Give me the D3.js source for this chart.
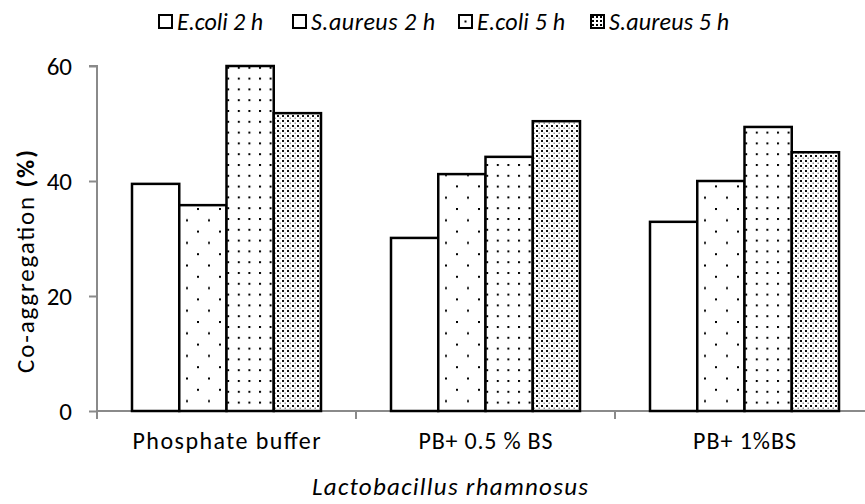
<!DOCTYPE html>
<html>
<head>
<meta charset="utf-8">
<script src="https://cdn.jsdelivr.net/npm/d3@7"></script>
<style>
  html, body { margin: 0; padding: 0; background: #fff; }
  svg { display: block; }
  text { font-family: Carlito, Lato, "Open Sans", sans-serif; fill: #000; }
</style>
</head>
<body>
<svg id="chart" width="865" height="504"></svg>
<script>
// ---- data ----
const categories = ["Phosphate buffer", "PB+ 0.5 % BS", "PB+ 1%BS"];
const seriesNames = ["E.coli 2 h", "S.aureus 2 h", "E.coli 5 h", "S.aureus 5 h"];
const ecoli2h   = [39.5, 30.1, 32.9];
const saureus2h = [35.8, 41.2, 40.0];
const ecoli5h   = [60.0, 44.2, 49.4];
const saureus5h = [51.8, 50.4, 45.0];
const yTicks = [0, 20, 40, 60];
const xTitle = "Lactobacillus rhamnosus";
const yTitle = "Co-aggregation ";
const yTitleBold = "(%)";

const seriesValues = [ecoli2h, saureus2h, ecoli5h, saureus5h];

// ---- layout ----
const svg = d3.select("#chart");
const mLeft = 97, mRight = 874, mTop = 66, mBottom = 411;

const x = d3.scaleBand().domain(categories).range([mLeft, mRight]).padding(0);
const xs = d3.scaleBand().domain(seriesNames).range([35, x.bandwidth() - 35]).padding(0);
const y = d3.scaleLinear().domain([0, 60]).range([mBottom, mTop]);

// ---- patterns ----
const defs = svg.append("defs");
function dotPattern(id, w, h, dots, ox, oy) {
  const p = defs.append("pattern").attr("id", id)
    .attr("patternUnits", "userSpaceOnUse")
    .attr("width", w).attr("height", h)
    .attr("x", ox || 0).attr("y", oy || 0);
  p.append("rect").attr("width", w).attr("height", h).attr("fill", "#fff");
  dots.forEach(d => p.append("rect").attr("x", d[0]).attr("y", d[1])
    .attr("width", d[2]).attr("height", d[2]).attr("fill", d[3] || "#000"));
  return "url(#" + id + ")";
}
const fills = [
  "#fff",
  dotPattern("p2", 22, 22.6, [[0, 0, 2], [11, 11.3, 2]], 188, 208),
  dotPattern("p3", 10.6, 10.8, [[0, 0, 2]], 3, 2),
  dotPattern("p4", 5, 5, [[0, 0, 2, "#111"], [2.5, 2.5, 1.5, "#999"]], 0, 0)
];

// ---- axes ----
const axisColor = "#8a8a8a";
const fontFam = "Carlito, Lato, 'Open Sans', sans-serif";
const yAxis = svg.append("g").attr("transform", `translate(${mLeft},0)`)
  .call(d3.axisLeft(y).tickValues(yTicks).tickSize(8).tickPadding(17).tickFormat(d3.format("d")));
yAxis.select(".domain").attr("stroke", axisColor).attr("stroke-width", 2).attr("d", `M-8,${mTop}H0V${mBottom}`);
yAxis.selectAll(".tick line").attr("stroke", axisColor).attr("stroke-width", 2);
yAxis.selectAll(".tick text").attr("font-size", 25).attr("fill", "#000").style("font-family", fontFam);

const catWidths = [188, 134, 103];
const xAxis = svg.append("g").attr("transform", `translate(0,${mBottom})`)
  .call(d3.axisBottom(x).tickSize(0).tickPadding(21));
xAxis.select(".domain").attr("stroke", axisColor).attr("stroke-width", 2).attr("d", `M${mLeft},0H${mRight}`);
xAxis.selectAll(".tick text").attr("font-size", 24).attr("fill", "#000").style("font-family", fontFam)
  .attr("textLength", (d, i) => catWidths[i]).attr("lengthAdjust", "spacing");
// category boundary ticks
const bounds = categories.map(c => x(c)).concat([x(categories[categories.length - 1]) + x.bandwidth()]);
svg.append("g").selectAll("line").data(bounds).join("line")
  .attr("x1", d => d).attr("x2", d => d)
  .attr("y1", mBottom).attr("y2", mBottom + 8)
  .attr("stroke", axisColor).attr("stroke-width", 2);

// ---- bars ----
const groups = svg.append("g").selectAll("g").data(categories).join("g")
  .attr("transform", c => `translate(${x(c)},0)`);
groups.selectAll("rect")
  .data((c, ci) => seriesNames.map((s, si) => ({ s, si, v: seriesValues[si][ci] })))
  .join("rect")
  .attr("x", d => xs(d.s))
  .attr("y", d => y(d.v))
  .attr("width", xs.bandwidth())
  .attr("height", d => y(0) - y(d.v))
  .attr("fill", d => fills[d.si])
  .attr("stroke", "#000")
  .attr("stroke-width", 2.5);

// ---- titles ----
svg.append("text")
  .attr("x", 312).attr("y", 495)
  .attr("font-size", 25).attr("font-style", "italic")
  .attr("textLength", 276).attr("lengthAdjust", "spacing")
  .text(xTitle);

const yt = svg.append("text")
  .attr("transform", "translate(34,373) rotate(-90)")
  .attr("font-size", 25)
  .attr("textLength", 223).attr("lengthAdjust", "spacing");
yt.append("tspan").text(yTitle);
yt.append("tspan").attr("font-weight", "bold").text(yTitleBold);

// ---- legend ----
const legend = svg.append("g");
const legendSwatchX = [159, 293, 459, 591];
const legendTextW = [86, 124, 88, 120];
const ly = 22;
seriesNames.forEach((name, i) => {
  const g = legend.append("g");
  const lx = legendSwatchX[i];
  let fill = "#fff";
  if (i === 2) fill = dotPattern("lp3", 13, 13, [[5.5, 5.5, 2]], lx, ly - 7);
  if (i === 3) fill = dotPattern("lp4", 4, 4, [[0, 0, 2]], lx + 1, ly - 6);
  g.append("rect").attr("x", lx).attr("y", ly - 7).attr("width", 13).attr("height", 13)
    .attr("fill", fill).attr("stroke", "#000").attr("stroke-width", 2);
  g.append("text").attr("x", lx + 18).attr("y", ly + 8)
    .attr("font-size", 24).attr("font-style", "italic")
    .attr("textLength", legendTextW[i]).attr("lengthAdjust", "spacing")
    .text(name);
});
</script>
</body>
</html>
